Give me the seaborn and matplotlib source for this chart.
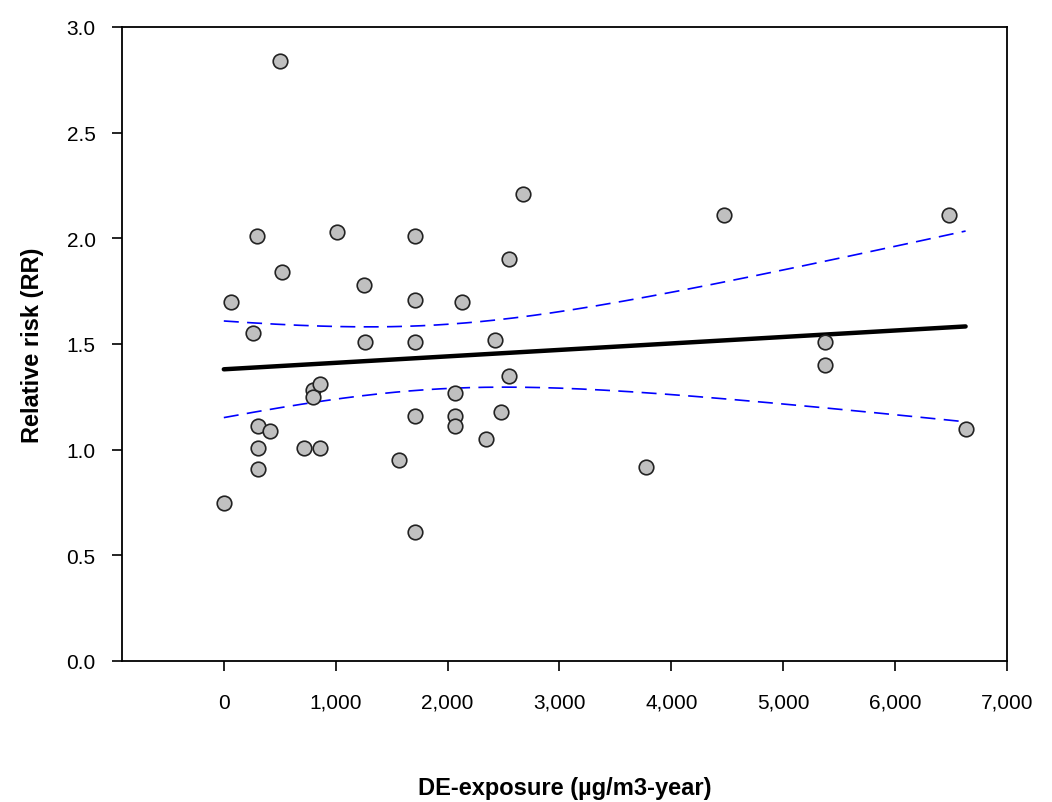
import matplotlib
matplotlib.use("Agg")
import matplotlib.pyplot as plt
import numpy as np
import pandas as pd
import seaborn as sns

# Data
exposure = [0, 60, 260, 300, 310, 310, 310, 410, 500, 520,
            720, 800, 800, 860, 860, 1010, 1250, 1260, 1570, 1710,
            1710, 1710, 1710, 1710, 2070, 2070, 2070, 2130, 2340, 2420,
            2480, 2550, 2550, 2670, 3770, 4470, 5370, 5370, 6480, 6630]
rel_risk = [0.75, 1.70, 1.55, 2.01, 1.11, 1.01, 0.91, 1.09, 2.84, 1.84,
            1.01, 1.28, 1.25, 1.31, 1.01, 2.03, 1.78, 1.51, 0.95, 2.01,
            1.71, 1.51, 1.16, 0.61, 1.27, 1.16, 1.11, 1.70, 1.05, 1.52,
            1.18, 1.90, 1.35, 2.21, 0.92, 2.11, 1.51, 1.40, 2.11, 1.10]

x_ticks = [0, 1000, 2000, 3000, 4000, 5000, 6000, 7000]
y_ticks = [0.0, 0.5, 1.0, 1.5, 2.0, 2.5, 3.0]

df = pd.DataFrame({"exposure": exposure, "rr": rel_risk})

# OLS fit with 95% confidence band for the mean
x = df["exposure"].to_numpy(float)
y = df["rr"].to_numpy(float)
n = len(x)
slope, intercept = np.polyfit(x, y, 1)
resid = y - (intercept + slope * x)
s = np.sqrt(np.sum(resid ** 2) / (n - 2))
xx = np.linspace(x.min(), x.max(), 200)
se = s * np.sqrt(1 / n + (xx - x.mean()) ** 2 / np.sum((x - x.mean()) ** 2))
t = 2.024
fit = pd.DataFrame({"x": xx, "fit": intercept + slope * xx,
                    "lo": intercept + slope * xx - t * se,
                    "hi": intercept + slope * xx + t * se})

sns.set_theme(style="ticks")
plt.rcParams['font.family'] = ['Liberation Sans', 'DejaVu Sans']
plt.rcParams['text.color'] = 'black'
plt.rcParams['xtick.color'] = 'black'
plt.rcParams['ytick.color'] = 'black'
plt.rcParams['axes.labelcolor'] = 'black'

fig = plt.figure(figsize=(10.52, 8.03), dpi=100)
ax = fig.add_axes([122 / 1052, 1 - 662 / 803, 885 / 1052, 634 / 803])

sns.lineplot(data=fit, x="x", y="hi", color="blue", lw=1.2, ax=ax,
             linestyle=(0, (9, 5)))
sns.lineplot(data=fit, x="x", y="lo", color="blue", lw=1.2, ax=ax,
             linestyle=(0, (9, 5)))
sns.lineplot(data=fit, x="x", y="fit", color="black", lw=3.2, ax=ax)
sns.scatterplot(data=df, x="exposure", y="rr", s=110, color="#c0c0c0",
                edgecolor="#222222", linewidth=1.2, ax=ax, zorder=5)

ax.set_xlim(-910, 7000)
ax.set_ylim(0, 3.0)
ax.set_xticks(x_ticks)
ax.set_xticklabels([f"{v:,}" for v in x_ticks])
ax.set_yticks(y_ticks)
ax.set_yticklabels([f"{v:.1f}" for v in y_ticks])
ax.tick_params(axis="x", length=7, width=1.2, pad=16, labelsize=15)
ax.tick_params(axis="y", length=7, width=1.2, pad=12, labelsize=15)
for sp in ax.spines.values():
    sp.set_linewidth(1.3)
    sp.set_color("black")

ax.set_xlabel("DE-exposure (µg/m3-year)", fontsize=17, fontweight="bold", labelpad=46)
ax.set_ylabel("Relative risk (RR)", fontsize=17, fontweight="bold", labelpad=16)

plt.savefig("out.png", dpi=100)
plt.close()
